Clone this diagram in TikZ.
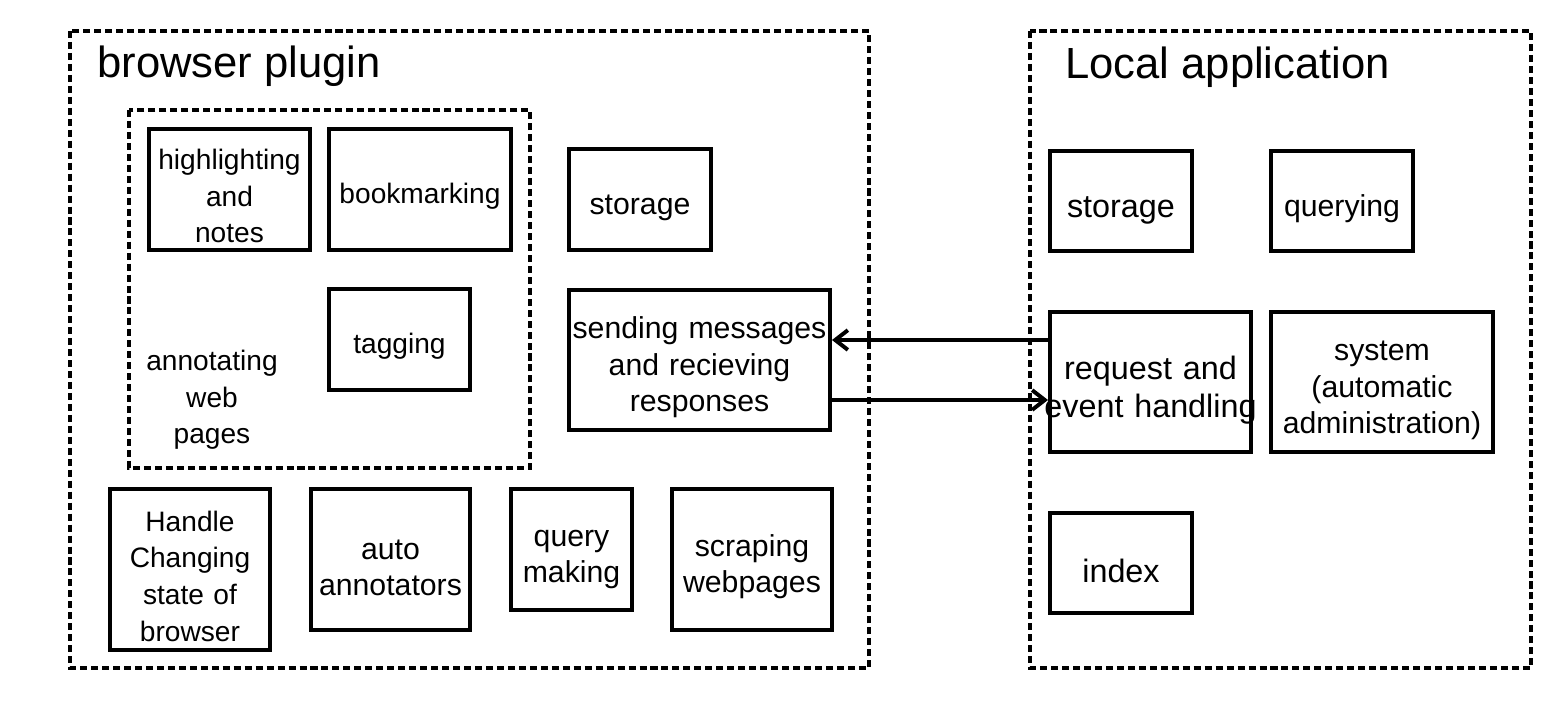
\documentclass[tikz,border=0pt]{standalone}
\usepackage{fontspec}
\setmainfont{Liberation Sans}
\usetikzlibrary{calc,arrows.meta}
\tikzset{
    module/.style={draw, line width=2.8pt, inner sep=0pt, align=center,
      execute at begin node={\rule{0pt}{1.2em}}},
    taille/.style 2 args={minimum width=#1cm, minimum height=#2cm, text width=#1cm},
    cadre/.style={line width=2.4pt, dash pattern=on 5pt off 2.8pt},
    petit/.style={font=\fontsize{20}{26}\selectfont},
    moyen/.style={font=\fontsize{21.5}{26}\selectfont},
    grand/.style={font=\fontsize{23}{27}\selectfont},
    titre/.style={font=\fontsize{31}{37}\selectfont, anchor=base west, inner sep=0pt},
    fleche/.style={line width=2.8pt, -{Straight Barb[length=9pt,width=14pt]}},
  }

\begin{document}
\begin{tikzpicture}[x=0.025cm, y=-0.025cm]
	  %unites en pixels, y vers le bas
	  \useasboundingbox (0,0) rectangle (1560,700);
	  %cadres pointilles
	  \draw[cadre] (70,31) rectangle (869,668);
	  \draw[cadre] (129,110) rectangle (530,468);
	  \draw[cadre] (1030,31) rectangle (1531,668);
	  \node[titre] (plugin) at (97,77) {browser plugin};
	  \node[titre] (appli) at (1065,78) {Local application};
	  %plugin
	  \node[module, petit, taille={4.025}{3.025}] (hl) at (229.5,189.5) {highlighting\\and\\notes};
	  \node[module, petit, taille={4.55}{3.025}] (bm) at (420,189.5) {bookmarking};
	  \node[module, petit, taille={3.525}{2.525}] (tag) at (399.5,339.5) {tagging};
	  \node[petit, align=center] (annot) at (212,400) {annotating\\web\\pages};
	  \node[module, moyen, taille={3.55}{2.525}] (sto1) at (640,199.5) {storage};
	  \node[module, moyen, taille={6.525}{3.5}] (send) at (699.5,360) {sending messages\\and recieving\\responses};
	  \node[module, petit, taille={4}{4.025}] (hcs) at (190,569.5) {Handle\\Changing\\state of\\browser};
	  \node[module, moyen, taille={3.975}{3.525}] (auto) at (390.5,559.5) {auto\\annotators};
	  \node[module, moyen, taille={3.025}{3.025}] (qm) at (571.5,549.5) {query\\making};
	  \node[module, moyen, taille={4}{3.525}] (scr) at (752,559.5) {scraping\\webpages};
	  %application locale
	  \node[module, grand, taille={3.55}{2.5}] (sto2) at (1121,201) {storage};
	  \node[module, moyen, taille={3.55}{2.5}] (qry) at (1342,201) {querying};
	  \node[module, grand, taille={5.025}{3.5}] (req) at (1150.5,382) {request and\\\makebox[\linewidth]{event handling}};
	  \node[module, moyen, taille={5.55}{3.5}] (sys) at (1382,382) {system\\(automatic\\administration)};
	  \node[module, grand, taille={3.55}{2.5}] (idx) at (1121,563) {index};
	  %fleches
	  \draw[fleche] ($(req.west)+(0,-42)$) -- ($(send.east)+(0,-20)$);
	  \draw[fleche] ($(send.east)+(0,40)$) -- ($(req.west)+(0,18)$);
\end{tikzpicture}
\end{document}
